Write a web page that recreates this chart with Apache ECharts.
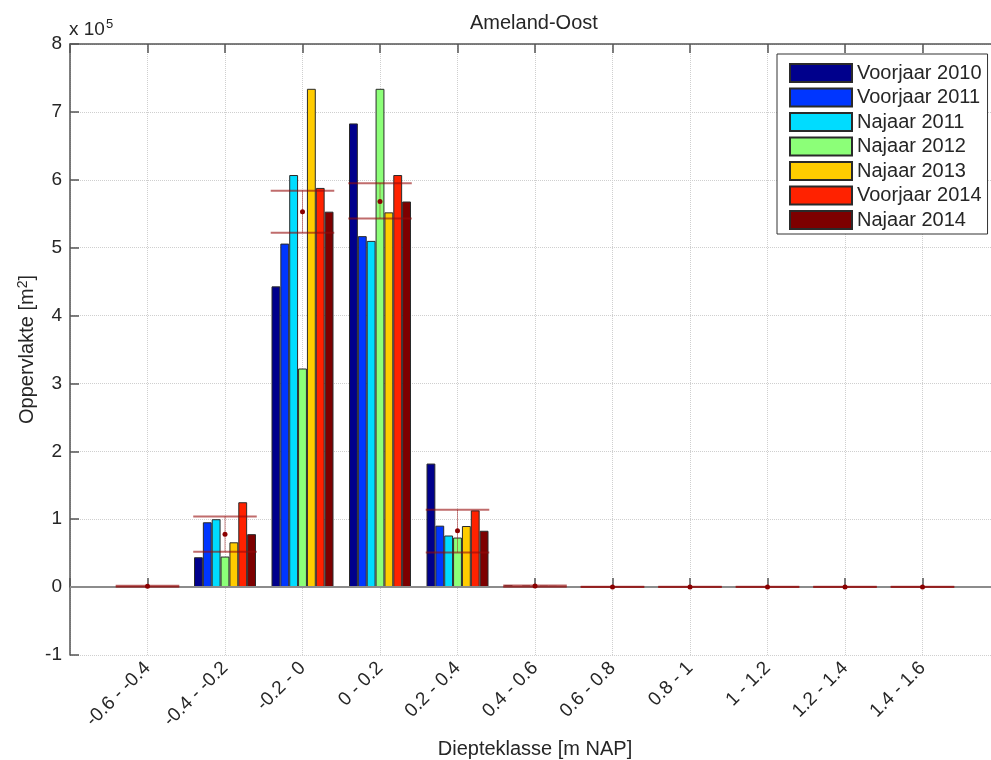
<!DOCTYPE html>
<html>
<head>
<meta charset="utf-8">
<script src="https://cdn.jsdelivr.net/npm/echarts@6/dist/echarts.min.js"></script>
<style>
  html, body { margin: 0; padding: 0; background: #ffffff; }
  #chart { width: 991px; height: 760px; }
</style>
</head>
<body>
<div id="chart"></div>
<script>
// Depth classes (x categories)
var categories = ['-0.6 - -0.4', '-0.4 - -0.2', '-0.2 - 0', '0 - 0.2', '0.2 - 0.4', '0.4 - 0.6',
                  '0.6 - 0.8', '0.8 - 1', '1 - 1.2', '1.2 - 1.4', '1.4 - 1.6'];
// Survey names (legend)
var seriesNames = ['Voorjaar 2010', 'Voorjaar 2011', 'Najaar 2011', 'Najaar 2012', 'Najaar 2013', 'Voorjaar 2014', 'Najaar 2014'];
// Area per depth class, in units of 10^5 m2
var voorjaar2010 = [0.012, 0.44, 4.43, 6.83, 1.82, 0.025, 0.002, 0.002, 0.002, 0.001, 0.001];
var voorjaar2011 = [0.015, 0.955, 5.06, 5.17, 0.905, 0.015, 0.001, 0.001, 0.001, 0.001, 0.001];
var najaar2011   = [0.012, 1.00, 6.07, 5.10, 0.76, 0.022, 0.003, 0.004, 0.004, 0.004, 0.004];
var najaar2012   = [0.010, 0.45, 3.22, 7.34, 0.73, 0.012, 0.001, 0.003, 0.003, 0.003, 0.003];
var najaar2013   = [0.014, 0.66, 7.34, 5.52, 0.90, 0.020, 0.002, 0.002, 0.002, 0.002, 0.002];
var voorjaar2014 = [0.016, 1.25, 5.88, 6.07, 1.13, 0.018, 0.010, 0.001, 0.001, 0.001, 0.001];
var najaar2014   = [0.013, 0.78, 5.53, 5.68, 0.83, 0.015, 0.003, 0.002, 0.002, 0.002, 0.002];
// Error bars (center, lower, upper), units of 10^5 m2
var errCenter = [0.013, 0.78, 5.53, 5.68, 0.83, 0.015, 0.003, 0.002, 0.002, 0.002, 0.002];
var errLower  = [0.005, 0.52, 5.22, 5.43, 0.51, 0.005, 0.000, 0.000, 0.000, 0.000, 0.000];
var errUpper  = [0.020, 1.04, 5.84, 5.95, 1.14, 0.025, 0.006, 0.004, 0.004, 0.004, 0.004];
// Y tick range
var yMin = -1, yMax = 8, yStep = 1;

var seriesValues = [voorjaar2010, voorjaar2011, najaar2011, najaar2012, najaar2013, voorjaar2014, najaar2014];
var seriesColors = ['#00008c', '#0036ff', '#00dcff', '#8cff78', '#ffcc00', '#ff2200', '#7d0000'];

var FONT = 'Liberation Sans, Arial, Helvetica, sans-serif';
var TXT = '#262626';
var AX = '#555555';

// axis data padded by one empty slot on each side (x limits 0..12)
var axisData = [''].concat(categories).concat(['']);

var series = seriesValues.map(function (vals, i) {
  var s = {
    name: seriesNames[i],
    type: 'bar',
    data: [null].concat(vals).concat([null]),
    barGap: '0%',
    barCategoryGap: '20%',
    itemStyle: { color: seriesColors[i], borderColor: '#2a2a2a', borderWidth: 1 },
    emphasis: { disabled: true },
    animation: false
  };
  if (i === 0) {
    s.markLine = {
      silent: true,
      symbol: ['none', 'none'],
      label: { show: false },
      lineStyle: { color: '#8c8c8c', width: 2, type: 'solid' },
      data: [{ yAxis: 0 }],
      animation: false
    };
  }
  return s;
});

var errData = categories.map(function (c, i) {
  return [i + 1, errCenter[i], errLower[i], errUpper[i]];
});

series.push({
  name: 'errorbars',
  type: 'custom',
  data: errData,
  z: 5,
  animation: false,
  renderItem: function (params, api) {
    var x = api.value(0);
    var c = api.coord([x, api.value(1)]);
    var lo = api.coord([x, api.value(2)]);
    var hi = api.coord([x, api.value(3)]);
    var hw = api.size([1, 0])[0] * 0.41;
    var stroke = 'rgba(150,10,10,0.6)';
    return {
      type: 'group',
      children: [
        { type: 'line', shape: { x1: c[0] - hw, y1: hi[1], x2: c[0] + hw, y2: hi[1] }, style: { stroke: stroke, lineWidth: 2 } },
        { type: 'line', shape: { x1: c[0] - hw, y1: lo[1], x2: c[0] + hw, y2: lo[1] }, style: { stroke: stroke, lineWidth: 2 } },
        { type: 'line', shape: { x1: c[0], y1: lo[1], x2: c[0], y2: hi[1] }, style: { stroke: 'rgba(150,10,10,0.45)', lineWidth: 1 } },
        { type: 'circle', shape: { cx: c[0], cy: c[1], r: 2.5 }, style: { fill: '#8b0000' } }
      ]
    };
  }
});

var chart = echarts.init(document.getElementById('chart'), null, { renderer: 'canvas' });
chart.setOption({
  backgroundColor: '#ffffff',
  animation: false,
  textStyle: { fontFamily: FONT },
  title: {
    text: 'Ameland-Oost',
    left: 470, top: 13, padding: 0,
    textStyle: { fontFamily: FONT, fontSize: 20, fontWeight: 'normal', color: TXT }
  },
  legend: {
    data: seriesNames,
    orient: 'vertical',
    left: 777, top: 54,
    padding: [9, 6, 4, 12],
    itemWidth: 62, itemHeight: 18, itemGap: 4.5,
    icon: 'rect',
    backgroundColor: '#ffffff',
    borderColor: '#333333', borderWidth: 1,
    textStyle: { fontFamily: FONT, fontSize: 20, color: TXT },
    selectedMode: false
  },
  grid: { left: 70, top: 44, width: 930, height: 611, containLabel: false, outerBoundsMode: 'none' },
  xAxis: [{
    type: 'category',
    data: axisData,
    boundaryGap: false,
    position: 'bottom',
    name: 'Diepteklasse [m NAP]',
    nameLocation: 'middle',
    nameGap: 84,
    nameMoveOverlap: false,
    nameTextStyle: { fontFamily: FONT, fontSize: 20, color: TXT },
    axisLine: { show: true, lineStyle: { color: AX, width: 1.5 } },
    axisTick: { show: true, inside: true, length: 9, interval: 0, lineStyle: { color: AX, width: 1.5 } },
    axisLabel: { interval: 0, rotate: 45, margin: 10, fontFamily: FONT, fontSize: 19, color: TXT },
    splitLine: { show: true, interval: 0, lineStyle: { color: '#cfcfcf', type: 'dotted', width: 1 } }
  }, {
    type: 'category',
    data: axisData,
    boundaryGap: false,
    position: 'top',
    axisLine: { show: true, lineStyle: { color: AX, width: 1.5 } },
    axisTick: { show: true, inside: true, length: 9, interval: 0, lineStyle: { color: AX, width: 1.5 } },
    axisLabel: { show: false },
    splitLine: { show: false }
  }],
  yAxis: {
    type: 'value',
    min: yMin, max: yMax, interval: yStep,
    name: '{a|Oppervlakte [m}{s|2}{a|]}',
    nameLocation: 'middle',
    nameGap: 32,
    nameMoveOverlap: false,
    nameTextStyle: {
      fontFamily: FONT, fontSize: 20, color: TXT,
      rich: {
        a: { fontFamily: FONT, fontSize: 20, color: TXT },
        s: { fontFamily: FONT, fontSize: 14, color: TXT, verticalAlign: 'top', padding: [0, 0, 8, 0] }
      }
    },
    axisLine: { show: true, lineStyle: { color: AX, width: 1.5 } },
    axisTick: { show: true, inside: true, length: 9, lineStyle: { color: AX, width: 1.5 } },
    axisLabel: { margin: 8, fontFamily: FONT, fontSize: 19, color: TXT },
    splitLine: { show: true, lineStyle: { color: '#cfcfcf', type: 'dotted', width: 1 } }
  },
  graphic: [{
    type: 'text',
    left: 69, top: 18,
    style: {
      text: '{a|x 10}{s|5}',
      rich: {
        a: { fontFamily: FONT, fontSize: 19, fill: TXT, color: TXT },
        s: { fontFamily: FONT, fontSize: 13, fill: TXT, color: TXT, verticalAlign: 'top', padding: [0, 0, 10, 1] }
      }
    }
  }],
  series: series
});
</script>
</body>
</html>
